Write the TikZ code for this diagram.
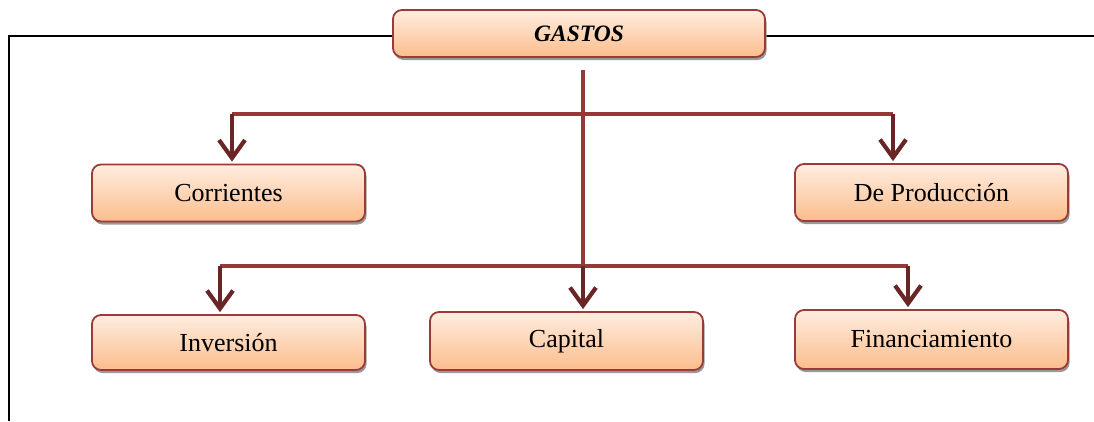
\documentclass[tikz,border=0pt]{standalone}
\usepackage{fontspec}
\setmainfont{Liberation Serif}
\usetikzlibrary{arrows.meta,shadows}
\definecolor{boxborder}{HTML}{9B3B39}
\definecolor{boxtop}{HTML}{FFEDE0}
\definecolor{boxbottom}{HTML}{FBBD8C}
\definecolor{linkred}{HTML}{973836}
\definecolor{arrowred}{HTML}{6A2626}
\tikzset{
  gbox/.style={draw=boxborder, line width=1.8pt, rounded corners=9pt,
    top color=boxtop, bottom color=boxbottom,
    drop shadow={shadow xshift=1.5pt, shadow yshift=-3pt, fill=black!40, opacity=1},
    minimum width=273pt, minimum height=57pt, inner sep=0pt,
    font=\fontsize{26}{29}\selectfont, text=black},
  link/.style={draw=linkred, line width=4.2pt},
  arr/.style={draw=arrowred, line width=4.2pt, -{Straight Barb[length=18pt,width=26pt,line width=4.2pt]}},
  frame/.style={draw=black, line width=2pt}
}
\begin{document}
\begin{tikzpicture}[x=1pt,y=-1pt]
\useasboundingbox (0,0) rectangle (1094,421);
% frame
\coordinate (fr) at (1094,36);
\coordinate (fc) at (9,36);
\coordinate (fb) at (9,421);
\draw[frame] (fr) -- (fc) -- (fb);
% nodes
\node[gbox, minimum width=372pt, minimum height=47pt, font=\fontsize{23.5}{26}\selectfont\bfseries\itshape] (g) at (579,33.5) {GASTOS};
\node[gbox] (corr) at (228.5,193) {Corrientes};
\node[gbox] (prod) at (931.5,192.5) {De Producción};
\node[gbox, minimum height=55pt] (inv) at (228.5,342.5) {Inversión};
\node[gbox, minimum height=58pt] (cap) at (566.5,341) {Capital};
\node[gbox, minimum height=59pt] (fin) at (931.5,339.5) {Financiamiento};
% connectors
\coordinate (t) at (583,70);
\coordinate (u1) at (232,114);
\coordinate (u2) at (893,114);
\coordinate (l1) at (220,266);
\coordinate (l2) at (908,266);
\draw[link] (u1) -- (u2);
\draw[link] (l1) -- (l2);
\draw[link] (t) -- (t |- l1);
\draw[arr] (t |- l1) -- ([yshift=2pt]t |- cap.north);
\draw[arr] (u1) -- ([yshift=2pt]u1 |- corr.north);
\draw[arr] (u2) -- ([yshift=2pt]u2 |- prod.north);
\draw[arr] (l1) -- ([yshift=2pt]l1 |- inv.north);
\draw[arr] (l2) -- ([yshift=2pt]l2 |- fin.north);
\end{tikzpicture}
\end{document}
